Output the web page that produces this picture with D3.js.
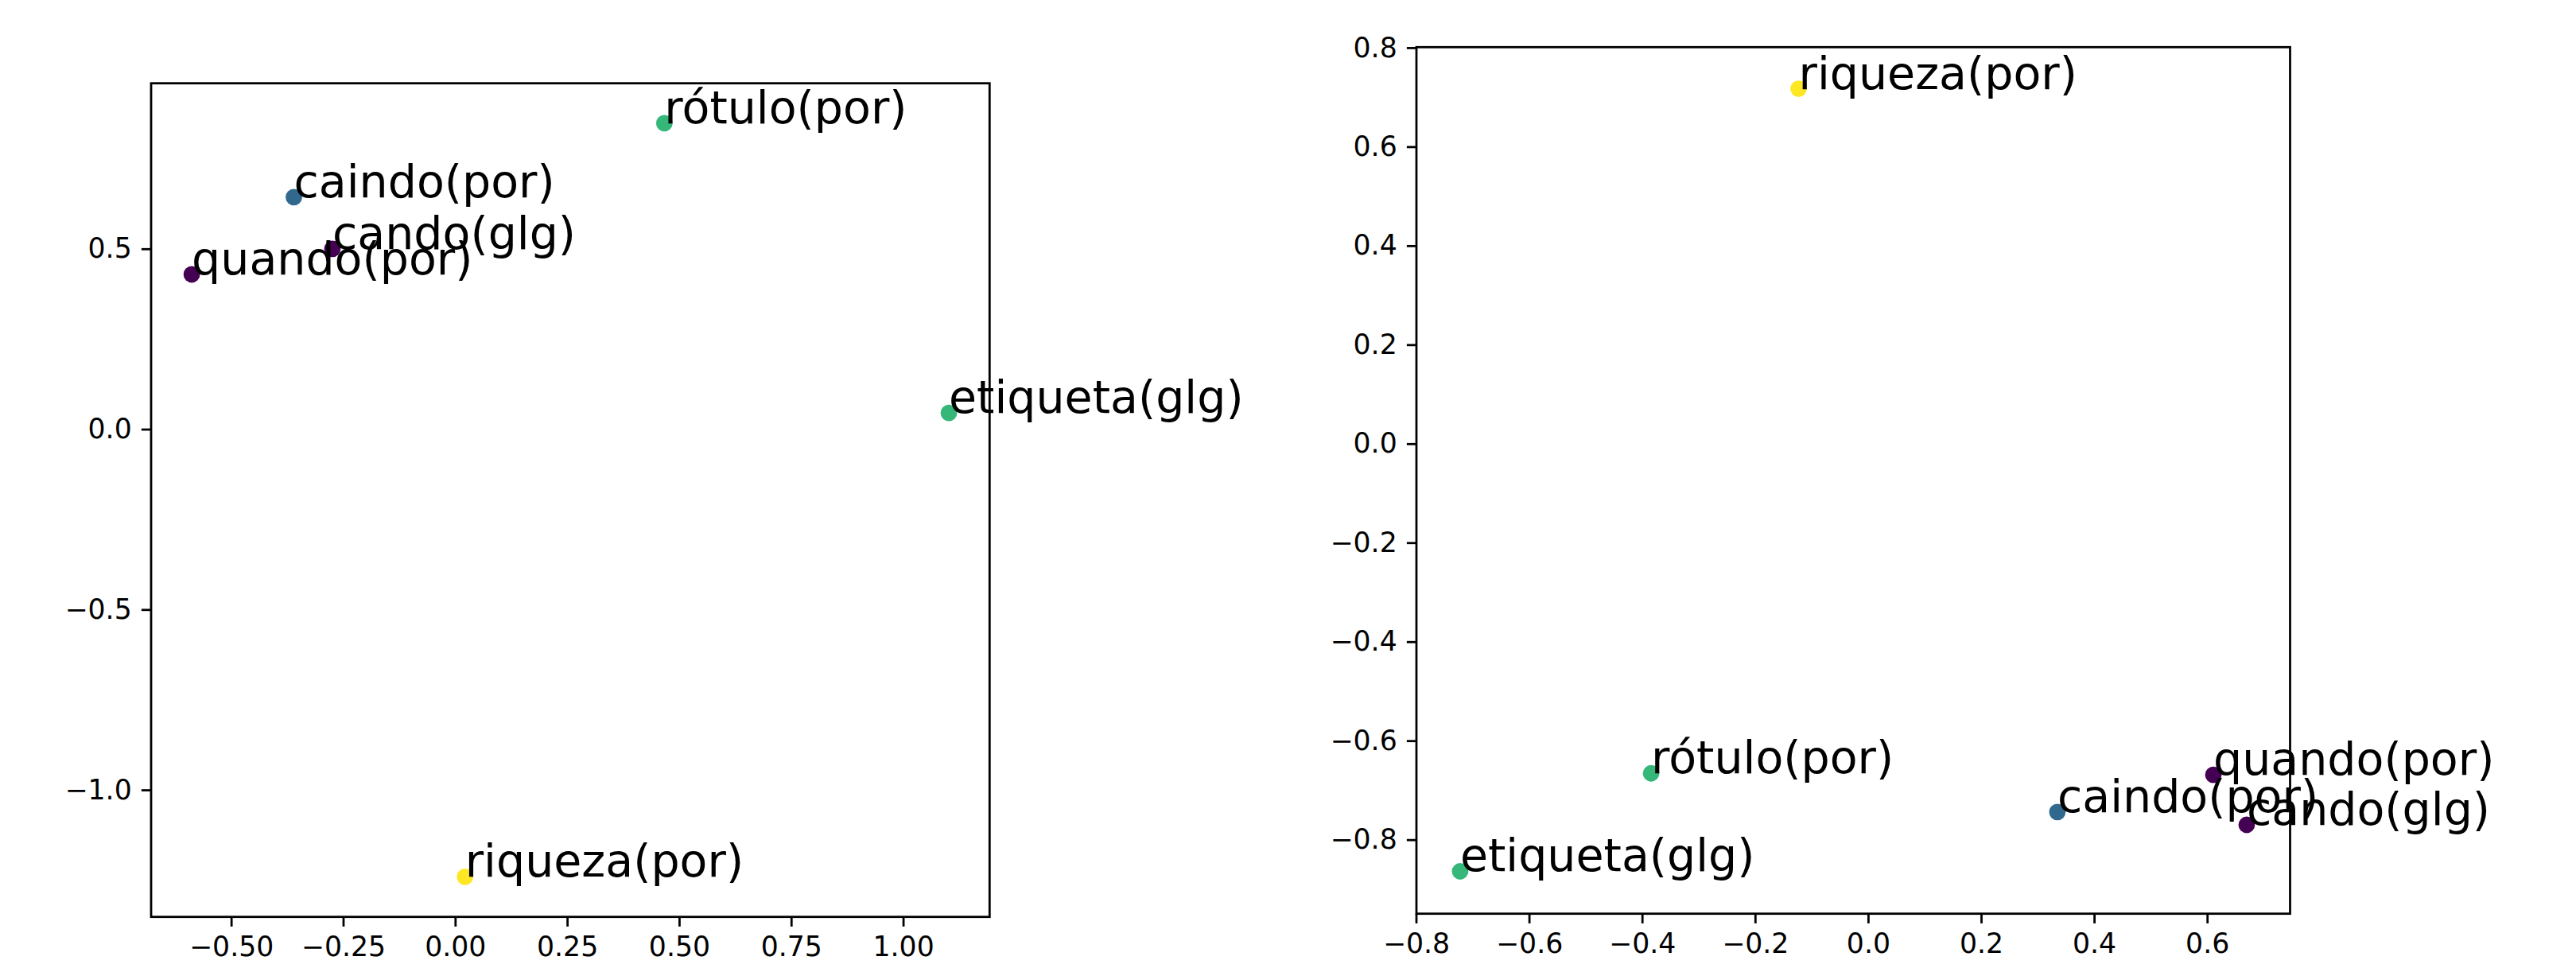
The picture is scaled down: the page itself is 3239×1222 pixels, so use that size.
<!DOCTYPE html>
<html>
<head>
<meta charset="utf-8">
<script src="https://cdn.jsdelivr.net/npm/d3@7"></script>
<style>
  body { margin: 0; background: #fff; }
  svg { display: block; }
  text { font-family: "DejaVu Sans", sans-serif; }
</style>
</head>
<body>
<div id="chart"></div>
<script>
// Data
const words = ["quando(por)", "cando(glg)", "caindo(por)", "rótulo(por)", "etiqueta(glg)", "riqueza(por)"];
const clusters = [0, 0, 1, 2, 2, 3];
const leftX = [-0.588, -0.274, -0.360, 0.467, 1.102, 0.022];
const leftY = [0.429, 0.500, 0.643, 0.848, 0.045, -1.241];
const rightX = [0.611, 0.670, 0.335, -0.384, -0.722, -0.123];
const rightY = [-0.669, -0.770, -0.744, -0.666, -0.864, 0.717];
const leftXTicks = [-0.5, -0.25, 0, 0.25, 0.5, 0.75, 1.0];
const leftYTicks = [-1.0, -0.5, 0.0, 0.5];
const rightXTicks = [-0.8, -0.6, -0.4, -0.2, 0.0, 0.2, 0.4, 0.6];
const rightYTicks = [-0.8, -0.6, -0.4, -0.2, 0.0, 0.2, 0.4, 0.6, 0.8];

const W = 3239, H = 1222;
const tickLen = 12.15, tickPad = 12.15, lw = 2.78;
const tickFont = 34.7, labelFont = 57, dotR = 10.4;

const svg = d3.select("#chart")
    .append("svg")
    .attr("width", W)
    .attr("height", H);

const minus = s => s.replace("-", "\u2212");

function panel(box, xd, yd, xs, ys, xTicks, yTicks, xFmt, yFmt) {
    const x = d3.scaleLinear().domain(xd).range([box.x0, box.x1]);
    const y = d3.scaleLinear().domain(yd).range([box.y1, box.y0]);
    const g = svg.append("g");

    // dots (below spines)
    g.selectAll("circle")
        .data(words.map((w, i) => ({ w: w, x: xs[i], y: ys[i], c: clusters[i] })))
        .enter()
        .append("circle")
        .attr("cx", d => x(d.x))
        .attr("cy", d => y(d.y))
        .attr("r", dotR)
        .attr("fill", d => d3.interpolateViridis(d.c / 3));

    // X axis
    const xa = g.append("g")
        .attr("transform", "translate(0," + box.y1 + ")")
        .call(d3.axisBottom(x).tickValues(xTicks).tickSizeInner(tickLen).tickSizeOuter(0)
            .tickPadding(tickPad).tickFormat(d => minus(d3.format(xFmt)(d))));
    // Y axis
    const ya = g.append("g")
        .attr("transform", "translate(" + box.x0 + ",0)")
        .call(d3.axisLeft(y).tickValues(yTicks).tickSizeInner(tickLen).tickSizeOuter(0)
            .tickPadding(tickPad).tickFormat(d => minus(d3.format(yFmt)(d))));
    [xa, ya].forEach(a => {
        a.select(".domain").remove();
        a.selectAll("line").attr("stroke", "#000").attr("stroke-width", lw);
        a.selectAll("text")
            .attr("fill", "#000")
            .style("font-family", "'DejaVu Sans', sans-serif")
            .style("font-size", tickFont + "px");
    });

    // frame
    g.append("rect")
        .attr("x", box.x0)
        .attr("y", box.y0)
        .attr("width", box.x1 - box.x0)
        .attr("height", box.y1 - box.y0)
        .attr("fill", "none")
        .attr("stroke", "#000")
        .attr("stroke-width", lw);

    // word labels
    g.selectAll("text.word")
        .data(words.map((w, i) => ({ w: w, x: xs[i], y: ys[i] })))
        .enter()
        .append("text")
        .attr("class", "word")
        .attr("x", d => x(d.x))
        .attr("y", d => y(d.y))
        .style("font-size", labelFont + "px")
        .attr("fill", "#000")
        .text(d => d.w);
}

panel({ x0: 190, x1: 1244.3, y0: 104.7, y1: 1152.7 },
    [-0.6787, 1.193], [-1.352, 0.9588], leftX, leftY, leftXTicks, leftYTicks, ".2f", ".1f");

panel({ x0: 1781, x1: 2879.5, y0: 59.3, y1: 1148.7 },
    [-0.7993, 0.7468], [-0.9495, 0.801], rightX, rightY, rightXTicks, rightYTicks, ".1f", ".1f");
</script>
</body>
</html>
